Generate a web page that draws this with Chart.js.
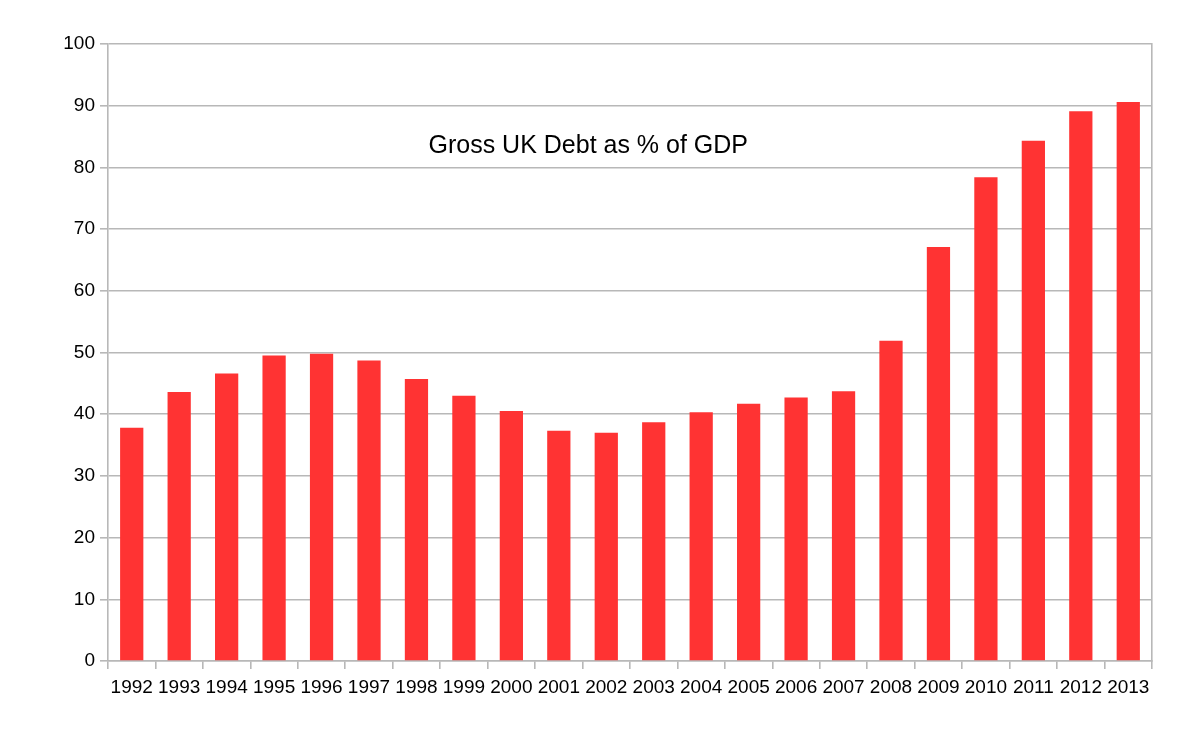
<!DOCTYPE html>
<html>
<head>
<meta charset="utf-8">
<script src="https://cdn.jsdelivr.net/npm/chart.js@4/dist/chart.umd.min.js"></script>
<style>
  html, body { margin: 0; padding: 0; background: #fff; }
  #wrap { width: 1200px; height: 737px; }
</style>
</head>
<body>
<div id="wrap"><canvas id="debt"></canvas></div>
<script>
const years = ['1992', '1993', '1994', '1995', '1996', '1997', '1998', '1999', '2000', '2001', '2002',
    '2003', '2004', '2005', '2006', '2007', '2008', '2009', '2010', '2011', '2012', '2013'];
const debtPct = [37.8, 43.6, 46.6, 49.5, 49.8, 48.7, 45.7, 43.0, 40.5, 37.3, 37.0,
    38.7, 40.3, 41.7, 42.7, 43.7, 51.9, 67.1, 78.4, 84.3, 89.1, 90.6];
const yTicks = [0, 10, 20, 30, 40, 50, 60, 70, 80, 90, 100];
const chartTitle = 'Gross UK Debt as % of GDP';

const gridGrey = '#b8b8b8';
const fontFam = '"Liberation Sans", Arial, sans-serif';

// title sits inside the plot area, not above it
const innerTitle = {
    id: 'innerTitle',
    afterDraw(chart) {
        let ctx = chart.ctx
        let area = chart.chartArea
        ctx.save()
        ctx.font = '25px ' + fontFam
        ctx.fillStyle = '#000'
        ctx.textAlign = 'center'
        ctx.textBaseline = 'middle'
        ctx.fillText(chartTitle, area.left + (area.right - area.left) * 0.46, chart.scales.y.getPixelForValue(83.5))
        ctx.restore()
    }
};

function DebtChart(id) {
    const data = {
        labels: years,
        datasets: [{
                label: chartTitle,
                data: debtPct,
                backgroundColor: '#ff3333',
                borderWidth: 0,
                barPercentage: 0.49,
                categoryPercentage: 1.0
            }]
    };

    const config = {
        type: 'bar',
        data: data,
        options: {
            responsive: true,
            maintainAspectRatio: false,
            animation: false,
            layout: {
                padding: { left: 0, right: 48, top: 44, bottom: 0 }
            },
            plugins: {
                legend: { display: false },
                title: { display: false },
                tooltip: { enabled: false }
            },
            scales: {
                x: {
                    offset: true,
                    grid: {
                        display: true,
                        drawOnChartArea: false,
                        drawTicks: true,
                        tickLength: 8,
                        lineWidth: 1.6,
                        color: gridGrey,
                        offset: true
                    },
                    border: { display: true, color: gridGrey, width: 1.6 },
                    ticks: {
                        color: '#000',
                        padding: 7,
                        maxRotation: 0,
                        autoSkip: false,
                        font: { family: fontFam, size: 19 }
                    },
                    afterFit: function (scale) { scale.height = 76 }
                },
                y: {
                    min: 0,
                    max: 100,
                    afterBuildTicks: function (scale) {
                        scale.ticks = yTicks.map(v => ({ value: v }))
                    },
                    grid: {
                        color: gridGrey,
                        lineWidth: 1.6,
                        drawTicks: true,
                        tickLength: 8
                    },
                    border: { display: true, color: gridGrey, width: 1.6 },
                    ticks: {
                        color: '#000',
                        padding: 5,
                        font: { family: fontFam, size: 19 }
                    },
                    afterFit: function (scale) { scale.width = 108 }
                },
                yRight: {
                    position: 'right',
                    min: 0,
                    max: 100,
                    grid: { display: false },
                    ticks: { display: false },
                    border: { display: true, color: gridGrey, width: 1.6 },
                    afterFit: function (scale) { scale.width = 0 }
                }
            }
        },
        plugins: [innerTitle]
    };
    let ctx = document.getElementById(id).getContext("2d")
    new Chart(ctx, config)
}

DebtChart('debt')
</script>
</body>
</html>
